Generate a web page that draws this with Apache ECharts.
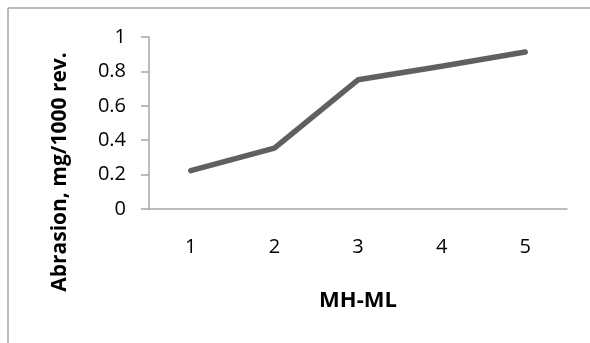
<!DOCTYPE html>
<html>
<head>
<meta charset="utf-8">
<script src="https://cdn.jsdelivr.net/npm/echarts@6/dist/echarts.min.js"></script>
<style>
html,body{margin:0;padding:0;background:#fff;}
#chart{width:590px;height:343px;}
</style>
</head>
<body>
<div id="chart"></div>
<script>
var categories = ['1', '2', '3', '4', '5'];
var abrasion = [0.223, 0.354, 0.751, 0.83, 0.913];
var yTicks = { min: 0, max: 1, interval: 0.2 };
var xTitle = 'MH-ML';
var yTitle = 'Abrasion, mg/1000 rev.';

var chart = echarts.init(document.getElementById('chart'), null, { renderer: 'canvas' });
var font = '"Open Sans", "Liberation Sans", sans-serif';
chart.setOption({
  animation: false,
  backgroundColor: '#ffffff',
  grid: { left: 149, top: 37, right: 23, bottom: 134, containLabel: false },
  xAxis: {
    type: 'category',
    data: categories,
    boundaryGap: true,
    axisLine: { show: true, lineStyle: { color: '#a6a6a6', width: 1.5 } },
    axisTick: { show: false },
    axisLabel: { color: '#000', fontSize: 20, fontFamily: font, margin: 28 },
    name: xTitle,
    nameLocation: 'middle',
    nameGap: 81,
    nameTextStyle: { color: '#000', fontSize: 22, fontWeight: 'bold', fontFamily: font }
  },
  yAxis: {
    type: 'value',
    min: yTicks.min,
    max: yTicks.max,
    interval: yTicks.interval,
    axisLine: { show: true, lineStyle: { color: '#a6a6a6', width: 1.5 } },
    axisTick: { show: true, inside: false, length: 8, lineStyle: { color: '#a6a6a6', width: 1.5 } },
    splitLine: { show: false },
    axisLabel: { color: '#000', fontSize: 20, fontFamily: font, margin: 23 }
  },
  graphic: [
    { type: 'line', shape: { x1: 8, y1: 8, x2: 590, y2: 8 }, style: { stroke: '#a6a6a6', lineWidth: 1.5 } },
    { type: 'line', shape: { x1: 8, y1: 8, x2: 8, y2: 343 }, style: { stroke: '#a6a6a6', lineWidth: 1.5 } },
    { type: 'text', x: 60, y: 172, rotation: Math.PI / 2,
      style: { text: yTitle, fill: '#000', font: 'bold 21px ' + font, textAlign: 'center', textVerticalAlign: 'middle' } }
  ],
  series: [{
    type: 'line',
    data: abrasion,
    symbol: 'none',
    lineStyle: { color: '#606060', width: 5.5, cap: 'round', join: 'round' }
  }]
});
</script>
</body>
</html>
